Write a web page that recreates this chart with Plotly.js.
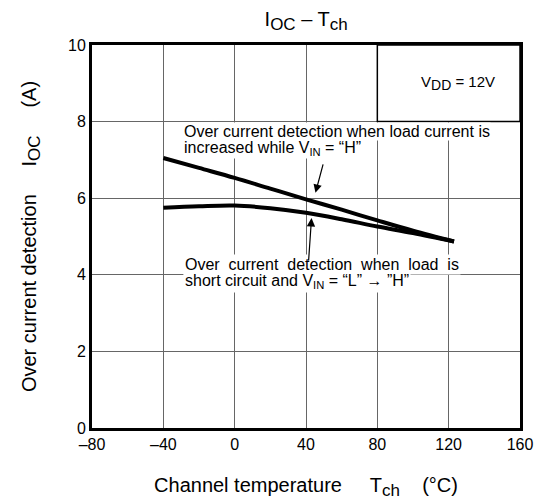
<!DOCTYPE html>
<html>
<head>
<meta charset="utf-8">
<script src="https://cdn.plot.ly/plotly-3.0.1.min.js"></script>
<style>
  html, body { margin: 0; padding: 0; background: #fff; }
  #chart { width: 539px; height: 501px; }
</style>
</head>
<body>
<div id="chart"></div>
<script>
// Channel temperature (°C)
const tch = [-40, -20, 0, 20, 40, 60, 80, 100, 123];
// Detection when load current rises while VIN = "H" (A)
const iocRising = [7.05, 6.79, 6.53, 6.25, 5.97, 5.70, 5.42, 5.15, 4.87];
// Detection on short circuit with VIN switched "L" -> "H" (A)
const iocShort = [5.75, 5.79, 5.81, 5.74, 5.62, 5.45, 5.26, 5.09, 4.87];

const xTicks = [-80, -40, 0, 40, 80, 120, 160];
const xTickText = ['\u201380', '\u201340', '0', '40', '80', '120', '160'];
const yTicks = [0, 2, 4, 6, 8, 10];
const yTickText = ['0', '2', '4', '6', '8', '10'];

const FONT = 'Liberation Sans, Arial, sans-serif';
const nb = '\u00A0';
const sp = (n) => nb.repeat(n);
// subscript kept close to the body size
const sub = (t, px) => '<sub><span style="font-size:' + px + 'px">' + t + '</span></sub>';

const traces = [
  { x: tch, y: iocRising, mode: 'lines', line: { color: '#000', width: 4, shape: 'spline' }, hoverinfo: 'skip' },
  { x: tch, y: iocShort, mode: 'lines', line: { color: '#000', width: 4, shape: 'spline' }, hoverinfo: 'skip' }
];

const noteFont = { family: FONT, size: 16, color: '#000' };
function note(text, y, pad) {
  return {
    xref: 'x', yref: 'y', x: -29, y: y, xanchor: 'left', yanchor: 'middle', align: 'left',
    text: text, showarrow: false, bgcolor: '#fff', borderpad: pad, font: noteFont
  };
}

const annotations = [
  note('Over current detection when load current is', 7.73, 0),
  note('increased while V<sub>IN</sub> = \u201CH\u201D', 7.30, 0),
  note('Over' + sp(2) + 'current' + sp(2) + 'detection' + sp(2) + 'when' + sp(2) + 'load' + sp(2) + 'is', 4.26, 1),
  note('short circuit and V<sub>IN</sub> = \u201CL\u201D \u2192 \u201DH\u201D', 3.83, 1),
  {
    xref: 'x', yref: 'y', x: 125.5, y: 9.0, xanchor: 'center', yanchor: 'middle',
    text: 'V' + sub('DD', 14) + ' = 12V', showarrow: false,
    font: { family: FONT, size: 15, color: '#000' }
  },
  {
    xref: 'x', yref: 'y', axref: 'x', ayref: 'y', x: 45.3, y: 6.14, ax: 49.8, ay: 6.92,
    text: '', showarrow: true, arrowhead: 2, arrowsize: 1.4, arrowwidth: 1.2, arrowcolor: '#000', standoff: 0
  },
  {
    xref: 'x', yref: 'y', axref: 'x', ayref: 'y', x: 43.1, y: 5.48, ax: 41.4, ay: 4.33,
    text: '', showarrow: true, arrowhead: 2, arrowsize: 1.4, arrowwidth: 1.2, arrowcolor: '#000', standoff: 0
  }
];

const layout = {
  width: 539, height: 501,
  margin: { l: 92, r: 19, t: 45, b: 73 },
  paper_bgcolor: '#fff', plot_bgcolor: '#fff',
  showlegend: false,
  font: { family: FONT, size: 16, color: '#000' },
  title: {
    text: 'I' + sub('OC', 17) + ' \u2013 T' + sub('ch', 17),
    x: 0.568, xanchor: 'center', y: 0.962, yanchor: 'middle',
    font: { family: FONT, size: 20, color: '#000' }
  },
  xaxis: {
    range: [-80, 160], tickvals: xTicks, ticktext: xTickText, ticks: '',
    showgrid: true, gridcolor: '#666', gridwidth: 1, zeroline: false,
    showline: true, linecolor: '#000', linewidth: 3, mirror: true,
    tickfont: { family: FONT, size: 16, color: '#000' },
    title: { text: 'Channel temperature' + sp(5) + 'T' + sub('ch', 17) + sp(4) + '(\u00B0C)', standoff: 26, font: { family: FONT, size: 20, color: '#000' } }
  },
  yaxis: {
    range: [0, 10], tickvals: yTicks, ticktext: yTickText, ticks: '',
    showgrid: true, gridcolor: '#666', gridwidth: 1, zeroline: false,
    showline: true, linecolor: '#000', linewidth: 3, mirror: true,
    tickfont: { family: FONT, size: 16, color: '#000' },
    title: { text: 'Over current detection' + sp(5) + 'I' + sub('OC', 17) + sp(5) + '(A)', standoff: 27, font: { family: FONT, size: 20, color: '#000' } }
  },
  shapes: [
    { type: 'rect', xref: 'x', yref: 'y', x0: 80, x1: 160, y0: 8, y1: 10, layer: 'between',
      fillcolor: '#fff', line: { color: '#000', width: 1.5 } }
  ],
  annotations: annotations
};

Plotly.newPlot('chart', traces, layout, { displayModeBar: false, staticPlot: true });
</script>
</body>
</html>
